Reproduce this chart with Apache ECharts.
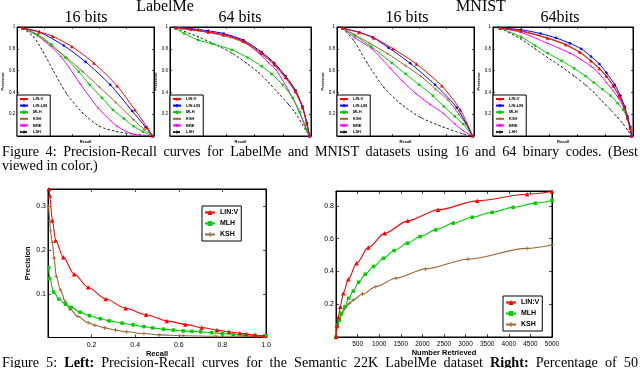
<!DOCTYPE html>
<html><head><meta charset="utf-8">
<script src="https://cdn.jsdelivr.net/npm/echarts/dist/echarts.min.js"></script>
<style>html,body{margin:0;padding:0;background:#fff}#c{width:640px;height:368px}</style>
</head><body><div id="c"></div>
<script>
// ---------- DATA ----------
const TOP_NAMES = ['LIN:V','LIN:LIN','MLH','KSH','BRE','LSH'];
const BOTTOM_NAMES = ['LIN:V','MLH','KSH'];

// LabelMe 16 bits [recall, precision]
const lm16_linv   = [[0.04,0.99],[0.16,0.955],[0.26,0.915],[0.40,0.82],[0.56,0.67],[0.73,0.46],[0.86,0.24],[0.95,0.08],[0.99,0.0]];
const lm16_linlin = [[0.04,0.99],[0.16,0.955],[0.34,0.83],[0.50,0.68],[0.68,0.47],[0.84,0.23],[0.94,0.08],[0.99,0.0]];
const lm16_mlh    = [[0.04,0.99],[0.15,0.93],[0.25,0.84],[0.35,0.72],[0.45,0.59],[0.53,0.47],[0.62,0.35],[0.70,0.24],[0.78,0.16],[0.85,0.09],[0.92,0.04],[0.99,0.0]];
const lm16_ksh    = [[0.04,0.99],[0.15,0.92],[0.25,0.83],[0.36,0.72],[0.48,0.59],[0.60,0.45],[0.72,0.31],[0.85,0.15],[0.93,0.06],[0.99,0.0]];
const lm16_bre    = [[0.04,0.99],[0.12,0.95],[0.20,0.87],[0.32,0.73],[0.46,0.48],[0.59,0.26],[0.73,0.09],[0.85,0.015],[0.99,0.0]];
const lm16_lsh    = [[0.04,0.99],[0.12,0.91],[0.19,0.77],[0.26,0.61],[0.36,0.39],[0.48,0.21],[0.60,0.09],[0.73,0.04],[0.90,0.01],[0.99,0.0]];

// LabelMe 64 bits
const lm64_linv   = [[0.04,0.995],[0.15,0.98],[0.27,0.955],[0.38,0.93],[0.52,0.87],[0.65,0.76],[0.74,0.66],[0.82,0.54],[0.89,0.41],[0.94,0.26],[0.97,0.11],[0.99,0.0]];
const lm64_linlin = [[0.04,0.995],[0.15,0.985],[0.27,0.965],[0.38,0.94],[0.52,0.88],[0.65,0.77],[0.74,0.67],[0.82,0.55],[0.89,0.42],[0.94,0.27],[0.97,0.12],[0.99,0.0]];
const lm64_mlh    = [[0.04,0.985],[0.10,0.94],[0.20,0.88],[0.30,0.845],[0.44,0.79],[0.55,0.72],[0.65,0.64],[0.72,0.57],[0.80,0.47],[0.87,0.35],[0.92,0.22],[0.97,0.06],[0.99,0.0]];
const lm64_ksh    = [[0.04,0.99],[0.15,0.975],[0.27,0.95],[0.38,0.92],[0.52,0.86],[0.65,0.75],[0.74,0.65],[0.82,0.53],[0.89,0.40],[0.94,0.26],[0.97,0.12],[0.99,0.0]];
const lm64_bre    = [[0.04,0.99],[0.20,0.965],[0.32,0.94],[0.44,0.91],[0.54,0.85],[0.63,0.76],[0.70,0.67],[0.75,0.61],[0.84,0.42],[0.91,0.24],[0.96,0.08],[0.99,0.0]];
const lm64_lsh    = [[0.04,0.99],[0.20,0.91],[0.32,0.84],[0.44,0.76],[0.54,0.67],[0.63,0.58],[0.70,0.49],[0.77,0.39],[0.84,0.29],[0.89,0.21],[0.96,0.06],[0.99,0.0]];

// MNIST 16 bits
const mn16_linv   = [[0.04,0.99],[0.16,0.95],[0.27,0.90],[0.41,0.80],[0.58,0.66],[0.765,0.46],[0.90,0.24],[0.99,0.0]];
const mn16_linlin = [[0.04,0.99],[0.165,0.95],[0.26,0.905],[0.376,0.81],[0.534,0.667],[0.716,0.47],[0.874,0.26],[0.99,0.0]];
const mn16_mlh    = [[0.04,0.99],[0.13,0.92],[0.25,0.82],[0.40,0.67],[0.50,0.57],[0.60,0.47],[0.70,0.37],[0.78,0.27],[0.86,0.18],[0.92,0.11],[0.99,0.0]];
const mn16_ksh    = [[0.04,0.99],[0.13,0.93],[0.24,0.85],[0.37,0.755],[0.50,0.645],[0.61,0.55],[0.72,0.43],[0.81,0.33],[0.89,0.20],[0.94,0.11],[0.99,0.0]];
const mn16_bre    = [[0.04,0.99],[0.13,0.90],[0.255,0.80],[0.39,0.62],[0.48,0.50],[0.575,0.39],[0.68,0.29],[0.777,0.206],[0.86,0.11],[0.92,0.05],[0.99,0.0]];
const mn16_lsh    = [[0.04,0.99],[0.12,0.88],[0.22,0.67],[0.34,0.45],[0.46,0.30],[0.61,0.17],[0.78,0.08],[0.92,0.02],[0.99,0.0]];

// MNIST 64 bits
const mn64_linv   = [[0.05,0.99],[0.20,0.965],[0.39,0.90],[0.52,0.84],[0.62,0.77],[0.70,0.69],[0.76,0.62],[0.81,0.55],[0.86,0.46],[0.90,0.37],[0.94,0.26],[0.96,0.17],[0.98,0.07],[0.99,0.0]];
const mn64_linlin = [[0.05,0.99],[0.20,0.975],[0.34,0.94],[0.45,0.90],[0.55,0.85],[0.63,0.80],[0.70,0.73],[0.76,0.66],[0.81,0.58],[0.87,0.47],[0.91,0.37],[0.94,0.27],[0.96,0.18],[0.98,0.08],[0.99,0.0]];
const mn64_mlh    = [[0.05,0.99],[0.20,0.91],[0.30,0.83],[0.39,0.76],[0.49,0.69],[0.58,0.62],[0.66,0.55],[0.72,0.49],[0.78,0.43],[0.84,0.37],[0.89,0.30],[0.93,0.24],[0.96,0.16],[0.98,0.09],[0.99,0.0]];
const mn64_ksh    = [[0.05,0.99],[0.20,0.96],[0.39,0.895],[0.52,0.835],[0.62,0.765],[0.70,0.685],[0.76,0.615],[0.81,0.545],[0.86,0.455],[0.90,0.365],[0.94,0.26],[0.96,0.17],[0.98,0.07],[0.99,0.0]];
const mn64_bre    = [[0.05,0.99],[0.20,0.95],[0.39,0.85],[0.55,0.76],[0.63,0.70],[0.70,0.64],[0.76,0.57],[0.81,0.49],[0.86,0.41],[0.90,0.34],[0.94,0.24],[0.96,0.15],[0.98,0.06],[0.99,0.0]];
const mn64_lsh    = [[0.05,0.99],[0.20,0.89],[0.30,0.80],[0.39,0.72],[0.49,0.635],[0.58,0.55],[0.66,0.47],[0.72,0.40],[0.78,0.32],[0.84,0.24],[0.89,0.17],[0.93,0.11],[0.97,0.04],[0.99,0.0]];

// Semantic 22K LabelMe: [recall, precision]
const sem_linv = [[0.005,0.34],[0.008,0.325],[0.02,0.268],[0.035,0.222],[0.07,0.184],[0.12,0.145],[0.184,0.115],[0.265,0.088],[0.356,0.067],[0.45,0.052],[0.545,0.038],[0.63,0.03],[0.705,0.023],[0.775,0.017],[0.83,0.013],[0.88,0.01],[0.91,0.008],[0.95,0.005],[0.99,0.004]];
const sem_mlh  = [[0.003,0.16],[0.008,0.135],[0.026,0.104],[0.05,0.088],[0.08,0.076],[0.107,0.069],[0.147,0.058],[0.19,0.05],[0.24,0.043],[0.28,0.038],[0.34,0.033],[0.39,0.029],[0.44,0.025],[0.48,0.022],[0.53,0.019],[0.575,0.017],[0.62,0.015],[0.66,0.014],[0.70,0.013],[0.75,0.011],[0.80,0.009],[0.85,0.007],[0.90,0.006],[0.95,0.005],[1.0,0.004]];
const sem_ksh  = [[0.003,0.30],[0.008,0.268],[0.011,0.244],[0.02,0.217],[0.028,0.182],[0.038,0.14],[0.057,0.109],[0.08,0.081],[0.10,0.065],[0.138,0.048],[0.184,0.034],[0.215,0.028],[0.26,0.022],[0.31,0.017],[0.36,0.013],[0.44,0.009],[0.51,0.006],[0.62,0.004],[0.77,0.003],[1.0,0.002]];

// Number retrieved vs recall
const nr_linv = [[0,0],[23,0.07],[54,0.12],[100,0.185],[170,0.267],[285,0.352],[477,0.45],[746,0.545],[1131,0.633],[1662,0.708],[2362,0.775],[3269,0.83],[4423,0.87],[5000,0.887]];
const nr_mlh  = [[0,0],[38,0.073],[77,0.104],[131,0.145],[208,0.185],[292,0.236],[400,0.28],[523,0.334],[677,0.383],[869,0.43],[1100,0.48],[1346,0.527],[1654,0.572],[1946,0.612],[2308,0.653],[2715,0.694],[3154,0.73],[3615,0.76],[4100,0.79],[4615,0.816],[5000,0.832]];
const nr_ksh  = [[0,0],[20,0.06],[54,0.094],[115,0.134],[192,0.171],[308,0.205],[400,0.226],[615,0.262],[923,0.307],[1385,0.358],[2077,0.415],[3054,0.474],[4423,0.54],[5000,0.561]];

// Text
const groupTitles = ['LabelMe','MNIST'];
const panelTitles = ['16 bits','64 bits','16 bits','64bits'];
const fig4Line1 = ['Figure','4:','Precision-Recall','curves','for','LabelMe','and','MNIST','datasets','using','16','and','64','binary','codes.','(Best'];
const fig4Line2 = 'viewed in color.)';
const fig5Line1 = [['Figure',0],['5:',0],['Left:',1],['Precision-Recall',0],['curves',0],['for',0],['the',0],['Semantic',0],['22K',0],['LabelMe',0],['dataset',0],['Right:',1],['Percentage',0],['of',0],['50',0]];

// ---------- CHART ----------
const SANS = '"Liberation Sans", Arial, sans-serif';
const SERIF = '"Liberation Serif", "Times New Roman", serif';
const PLUS = 'path://M2,0H3V2H5V3H3V5H2V3H0V2H2Z';
const STY = {
  'LIN:V':   {color:'#ff0000', symbol:'triangle', size:3.5},
  'LIN:LIN': {color:'#0000ff', symbol:'circle', size:2.6},
  'MLH':     {color:'#00cc00', symbol:'rect', size:2.4},
  'KSH':     {color:'#996633', symbol:PLUS, size:3},
  'BRE':     {color:'#ff00ff', symbol:'circle', size:1.6},
  'LSH':     {color:'#222222', symbol:'circle', size:1.2, dash:[2.5,2]}
};
const grids = [
  {left:17, top:27, width:137, height:109},
  {left:170, top:27, width:141, height:109},
  {left:337, top:27, width:137, height:109},
  {left:493, top:27, width:140, height:109},
  {left:48, top:189, width:218, height:148.5},
  {left:336, top:191, width:216, height:146}
];
const topData = [
  [lm16_linv,lm16_linlin,lm16_mlh,lm16_ksh,lm16_bre,lm16_lsh],
  [lm64_linv,lm64_linlin,lm64_mlh,lm64_ksh,lm64_bre,lm64_lsh],
  [mn16_linv,mn16_linlin,mn16_mlh,mn16_ksh,mn16_bre,mn16_lsh],
  [mn64_linv,mn64_linlin,mn64_mlh,mn64_ksh,mn64_bre,mn64_lsh]
];
const botData = [[sem_linv,sem_mlh,sem_ksh],[nr_linv,nr_mlh,nr_ksh]];

const xAxes = [], yAxes = [], series = [], legends = [];
const gridOpts = grids.map(g => Object.assign({show:true, borderColor:'#000', borderWidth:1, backgroundColor:'#fff'}, g));

function mkAxis(g, pos, min, max, interval, tickLen, label, name) {
  const a = {
    type:'value', gridIndex:g, position:pos, min, max, interval,
    axisLine:{show:true, onZero:false, lineStyle:{color:'#000', width:1}},
    axisTick:{show:true, inside:true, length:tickLen, lineStyle:{color:'#000', width:0.7}},
    axisLabel: label ? Object.assign({show:true, color:'#000', fontFamily:SANS, hideOverlap:false, interval:0}, label) : {show:false},
    splitLine:{show:false}
  };
  if (name) Object.assign(a, name);
  return a;
}
const nm = (txt, gap, size, extra) => ({name:txt, nameLocation:'middle', nameGap:gap,
  nameTextStyle:Object.assign({fontSize:size, fontWeight:'bold', fontFamily:SANS, color:'#000'}, extra || {})});

const topYFmt = v => (Math.abs(v) < 1e-9 ? '' : (Math.abs(v-1) < 1e-9 ? '1' : v.toFixed(1)));
const oneDec = v => { const r = Math.round(v*10)/10; return (r === 0 || Math.abs(v-r) > 1e-6) ? '' : r.toFixed(1); };
const twoTenth = v => { const r = Math.round(v*5)/5; return (r === 0 || Math.abs(v-r) > 1e-6) ? '' : r.toFixed(1); };

// top panels
for (let g = 0; g < 4; g++) {
  xAxes.push(mkAxis(g,'bottom',0,1,0.2,2,null, nm('Recall',4,4)));
  xAxes.push(mkAxis(g,'top',0,1,0.2,2,null));
  yAxes.push(mkAxis(g,'left',0,1,0.2,2,{fontSize:4.5, margin:2, formatter:topYFmt}, nm('Precision',9,4)));
  yAxes.push(mkAxis(g,'right',0,1,0.2,2,null));
  TOP_NAMES.forEach((n,i) => {
    const s = STY[n];
    series.push({type:'line', name:n, xAxisIndex:2*g, yAxisIndex:2*g, data:topData[g][i],
      symbol:s.symbol, symbolSize:s.size, showSymbol:true, smooth:0.25,
      lineStyle:{color:s.color, width:1, type:s.dash || 'solid'}, itemStyle:{color:s.color},
      emphasis:{disabled:true}, animation:false, z:10-i});
  });
  legends.push({show:true, data:TOP_NAMES, orient:'vertical', left:grids[g].left, top:95,
    itemWidth:8, itemHeight:4, itemGap:2.6, padding:[2,3,2,2], selectedMode:false,
    backgroundColor:'#fff', borderColor:'#000', borderWidth:1, borderRadius:0,
    textStyle:{fontSize:4, fontWeight:'bold', fontFamily:SANS, color:'#000'}});
}
// bottom-left
xAxes.push(mkAxis(4,'bottom',0,1,0.2,3,{fontSize:7, margin:4, formatter:oneDec}, nm('Recall',12,7.5)));
xAxes.push(mkAxis(4,'top',0,1,0.2,3,null));
yAxes.push(mkAxis(4,'left',0,0.34,0.1,3,{fontSize:7, margin:2, formatter:oneDec}, nm('Precision',13,7.5)));
yAxes.push(mkAxis(4,'right',0,0.34,0.1,3,null));
// bottom-right
xAxes.push(mkAxis(5,'bottom',0,5000,500,3,{fontSize:6.5, margin:4, formatter:v => (v===0 ? '' : String(v))}, nm('Number Retrieved',12,7.5)));
xAxes.push(mkAxis(5,'top',0,5000,500,3,null));
yAxes.push(mkAxis(5,'left',0,0.89,0.2,3,{fontSize:7, margin:2, formatter:twoTenth}));
yAxes.push(mkAxis(5,'right',0,0.89,0.2,3,null));
const botSym = {'LIN:V':4.5, 'MLH':3.5, 'KSH':4};
for (let b = 0; b < 2; b++) {
  const g = 4 + b;
  BOTTOM_NAMES.forEach((n,i) => {
    const s = STY[n];
    series.push({type:'line', name:n, xAxisIndex:2*g, yAxisIndex:2*g, data:botData[b][i],
      symbol:s.symbol, symbolSize:botSym[n], showSymbol:true, smooth:0.3, smoothMonotone:'x',
      lineStyle:{color:s.color, width:1.1}, itemStyle:{color:s.color},
      emphasis:{disabled:true}, animation:false, z:10-i});
  });
}
legends.push({show:true, data:BOTTOM_NAMES, orient:'vertical', left:202, top:206,
  itemWidth:10, itemHeight:6, itemGap:4, padding:[3,3,3,2], selectedMode:false,
  backgroundColor:'#fff', borderColor:'#000', borderWidth:1, borderRadius:0,
  textStyle:{fontSize:7, fontWeight:'bold', fontFamily:SANS, color:'#000'}});
legends.push({show:true, data:BOTTOM_NAMES, orient:'vertical', left:503, top:296,
  itemWidth:10, itemHeight:6, itemGap:4, padding:[3,3,3,2], selectedMode:false,
  backgroundColor:'#fff', borderColor:'#000', borderWidth:1, borderRadius:0,
  textStyle:{fontSize:7, fontWeight:'bold', fontFamily:SANS, color:'#000'}});

// ---------- TEXT ----------
function txt(t, x, y, size, align, bold) {
  const font = (bold ? 'bold ' : '') + size + 'px ' + SERIF;
  return {type:'text', x, y, silent:true, z:100,
    style:{text:t, font, fill:'#000', align:align||'center', verticalAlign:'middle', textAlign:align||'center', textVerticalAlign:'middle'}};
}
const mctx = document.createElement('canvas').getContext('2d');
function justify(words, y, x0, x1, size) {
  const w = words.map(([t,b]) => { mctx.font = (b ? 'bold ' : '') + size + 'px ' + SERIF; return mctx.measureText(t).width; });
  const total = w.reduce((a,c) => a + c, 0);
  const gap = (x1 - x0 - total) / (words.length - 1);
  let x = x0; const out = [];
  words.forEach(([t,b], i) => { out.push(txt(t, x, y, size, 'left', b)); x += w[i] + gap; });
  return out;
}
const graphics = [
  txt(groupTitles[0], 165, 7, 16), txt(groupTitles[1], 481, 7, 16),
  txt(panelTitles[0], 86, 18, 16), txt(panelTitles[1], 240, 18, 16),
  txt(panelTitles[2], 407, 18, 16), txt(panelTitles[3], 560, 18, 16),
  ...justify(fig4Line1.map(t => [t,0]), 152, 2, 638, 14.2),
  txt(fig4Line2, 2, 166, 14.2, 'left'),
  ...justify(fig5Line1, 363, 2, 638, 14.2)
];

const chart = echarts.init(document.getElementById('c'), null, {renderer:'canvas'});
chart.setOption({
  backgroundColor:'#fff', animation:false,
  grid:gridOpts, xAxis:xAxes, yAxis:yAxes, series, legend:legends,
  graphic:{elements:graphics}
});
</script></body></html>
